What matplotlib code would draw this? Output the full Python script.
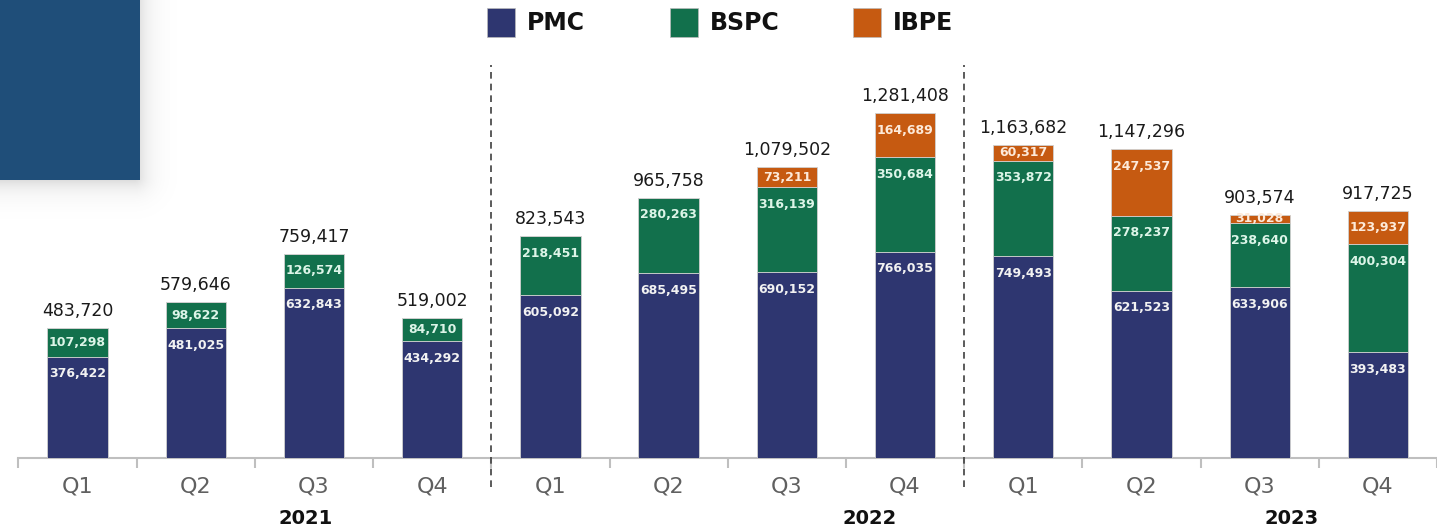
import matplotlib
matplotlib.use("Agg")
import matplotlib.pyplot as plt
from matplotlib.patches import Rectangle
import numpy as np

# ---------------- data ----------------
quarters = ["Q1", "Q2", "Q3", "Q4", "Q1", "Q2", "Q3", "Q4", "Q1", "Q2", "Q3", "Q4"]
years = ["2021", "2022", "2023"]
pmc = [376422, 481025, 632843, 434292, 605092, 685495, 690152, 766035, 749493, 621523, 633906, 393483]
bspc = [107298, 98622, 126574, 84710, 218451, 280263, 316139, 350684, 353872, 278237, 238640, 400304]
ibpe = [0, 0, 0, 0, 0, 0, 73211, 164689, 60317, 247537, 31028, 123937]
totals = [483720, 579646, 759417, 519002, 823543, 965758, 1079502, 1281408, 1163682, 1147296, 903574, 917725]
series_names = ["PMC", "BSPC", "IBPE"]

# ---------------- style ----------------
C_PMC = "#2E3670"
C_BSPC = "#12704C"
C_IBPE = "#C65A11"
colors = [C_PMC, C_BSPC, C_IBPE]
label_colors = ["#F2F2F2", "#DDF5E8", "#FDEADA"]

W, H = 1437, 532
DPI = 100
fig = plt.figure(figsize=(W / DPI, H / DPI), dpi=DPI)

# soft shadow + corner box drawn on a full-figure background axes
bg = fig.add_axes([0, 0, 1, 1], zorder=0)
bg.axis("off")
yy, xx = np.mgrid[0:260, 0:260] + 0.5
rx, ry = 134.0, 176.0
dx = np.maximum(xx - rx, 0)
dy = np.maximum(yy - ry, 0)
d = np.hypot(dx, dy)
alpha = 0.20 * np.exp(-d / 11.0)
shadow = np.zeros((260, 260, 4))
shadow[..., 3] = alpha
bg.imshow(shadow, extent=(0, 260, 260, 0), interpolation="bilinear", zorder=0)
bg.add_patch(Rectangle((0, 0), 140, 180, facecolor="#1F4E79", lw=0, zorder=1))
bg.set_xlim(0, W)
bg.set_ylim(H, 0)

x0_px, step_px = 78.0, 119.1
base_px = 458.0
px_per_unit = 345.0 / 1281408.0
left_px = x0_px - 0.5 * step_px
ax = fig.add_axes([left_px / W, (H - base_px) / H, 1 - left_px / W, base_px / H], zorder=2)
ax.patch.set_alpha(0)
x = np.arange(len(quarters))
ax.set_xlim(-0.5, (W - x0_px) / step_px)
ax.set_ylim(0, base_px / px_per_unit)

bw = 0.51
bottoms = np.zeros(len(x))
stack = [pmc, bspc, ibpe]
px2pt = 72.0 / DPI
for k, vals in enumerate(stack):
    vals = np.array(vals, dtype=float)
    ax.bar(x, vals, bw, bottom=bottoms, color=colors[k], edgecolor="#D0D0D0",
           linewidth=0.6, zorder=3)
    for i, v in enumerate(vals):
        if v <= 0:
            continue
        top = bottoms[i] + v
        seg_px = v * px_per_unit
        if seg_px < 36:
            ax.text(x[i], bottoms[i] + v / 2, f"{int(v):,}", ha="center", va="center",
                    fontsize=9, fontweight="bold", color=label_colors[k], zorder=5)
        else:
            ax.annotate(f"{int(v):,}", xy=(x[i], top), xytext=(0, -17 * px2pt),
                        textcoords="offset points", ha="center", va="center",
                        fontsize=9, fontweight="bold", color=label_colors[k], zorder=5)
    bottoms = bottoms + vals

for i, t in enumerate(totals):
    ax.annotate(f"{t:,}", xy=(x[i], bottoms[i]), xytext=(0, 17 * px2pt),
                textcoords="offset points", ha="center", va="center",
                fontsize=12.5, color="#1A1A1A", zorder=5)

# axes cosmetics
for s in ["top", "right", "left"]:
    ax.spines[s].set_visible(False)
ax.spines["bottom"].set_color("#BFBFBF")
ax.spines["bottom"].set_linewidth(1.5)
ax.set_yticks([])
ax.set_xticks(np.arange(-0.5, len(x) + 0.5, 1.0))
ax.set_xticklabels([])
ax.tick_params(axis="x", length=7, width=1.5, color="#BFBFBF")
ax.set_xticks(x, minor=True)
ax.set_xticklabels(quarters, minor=True)
ax.tick_params(axis="x", which="minor", length=0, pad=13, labelsize=16, labelcolor="#606060")

# year labels
year_pos = [1.93, 6.70, 10.27]
for yp, yl in zip(year_pos, years):
    ax.text(yp, -60 / px_per_unit, yl, ha="center", va="center",
            fontsize=14, fontweight="bold", color="#111111", clip_on=False)

# dashed separators
for sep in [3.5, 7.5]:
    ymin = (base_px - 487) / px_per_unit
    ymax = (base_px - 65) / px_per_unit
    ax.plot([sep, sep], [ymin, ymax], ls=(0, (4, 3)), color="#404040", lw=1.2,
            clip_on=False, zorder=4)

# legend (manual)
leg_sq = [487, 670, 853]
for sx, name, c in zip(leg_sq, series_names, colors):
    fig.patches.append(Rectangle((sx / W, 1 - 37 / H), 28 / W, 29 / H, transform=fig.transFigure,
                                 facecolor=c, edgecolor="#BBBBBB", lw=0.5, zorder=2))
    fig.text((sx + 40) / W, 1 - 22.5 / H, name, ha="left", va="center", fontsize=17,
             fontweight="bold", color="#111111")

fig.savefig("out.png", dpi=DPI)
